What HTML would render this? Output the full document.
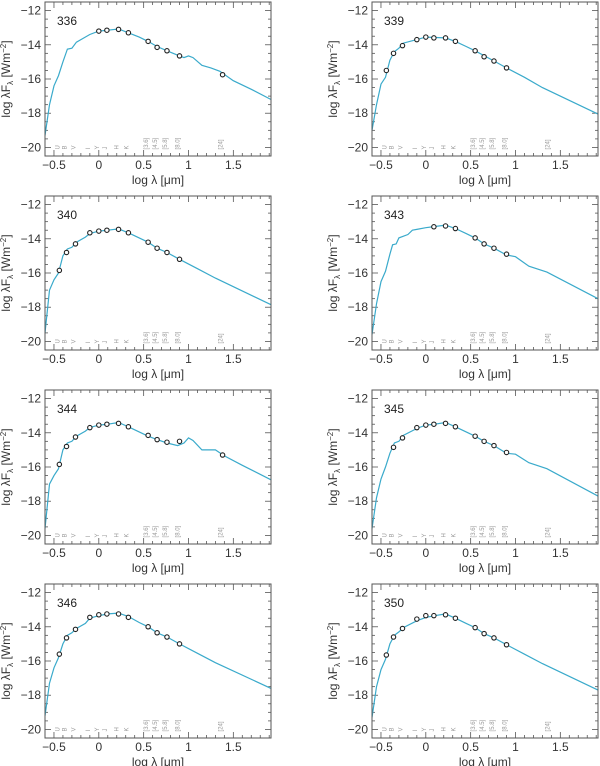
<!DOCTYPE html>
<html><head><meta charset="utf-8">
<style>
html,body{margin:0;padding:0;background:#fff;}
svg{display:block;font-family:"Liberation Sans",sans-serif;}
</style></head>
<body>
<svg id="fig" width="600" height="766" viewBox="0 0 600 766" xmlns="http://www.w3.org/2000/svg"></svg>
<script>
const panelIds = ["336","339","340","343","344","345","346","350"];
const pts336x = [0,0.09,0.22,0.33,0.55,0.65,0.76,0.9,1.38];
const pts336y = [-13.2,-13.15,-13.1,-13.3,-13.8,-14.15,-14.35,-14.65,-15.75];
const mod336x = [-0.6,-0.55,-0.5,-0.45,-0.4,-0.35,-0.3,-0.25,-0.2,-0.1,0,0.1,0.22,0.33,0.45,0.55,0.65,0.76,0.9,0.95,1.0,1.05,1.15,1.25,1.35,1.5,1.7,1.92];
const mod336y = [-19.3,-17.5,-16.4,-15.8,-15,-14.25,-14.2,-13.85,-13.7,-13.4,-13.2,-13.15,-13.08,-13.3,-13.55,-13.8,-14.1,-14.35,-14.65,-14.75,-14.65,-14.75,-15.2,-15.35,-15.55,-16.1,-16.6,-17.2];
const pts339x = [-0.44,-0.36,-0.26,-0.1,0,0.09,0.22,0.33,0.55,0.65,0.76,0.9];
const pts339y = [-15.5,-14.5,-14.05,-13.7,-13.55,-13.6,-13.6,-13.8,-14.35,-14.7,-14.95,-15.35];
const mod339x = [-0.6,-0.55,-0.5,-0.45,-0.4,-0.35,-0.3,-0.25,-0.1,0,0.22,0.33,0.45,0.55,0.76,0.9,1.1,1.3,1.92];
const mod339y = [-19,-17.5,-16.3,-15.9,-14.9,-14.4,-14.2,-13.9,-13.7,-13.55,-13.6,-13.8,-14.1,-14.35,-14.95,-15.35,-15.9,-16.5,-18.05];
const pts340x = [-0.44,-0.36,-0.26,-0.1,0,0.09,0.22,0.33,0.55,0.65,0.76,0.9];
const pts340y = [-15.85,-14.8,-14.3,-13.65,-13.55,-13.5,-13.45,-13.65,-14.2,-14.55,-14.8,-15.2];
const mod340x = [-0.6,-0.55,-0.5,-0.45,-0.4,-0.35,-0.3,-0.25,-0.15,-0.1,0,0.1,0.22,0.33,0.45,0.55,0.65,0.76,0.9,1.1,1.3,1.92];
const mod340y = [-19.5,-17,-16.4,-16,-15,-14.6,-14.5,-14.2,-13.9,-13.7,-13.55,-13.5,-13.42,-13.65,-13.95,-14.2,-14.55,-14.8,-15.2,-15.75,-16.3,-17.85];
const pts343x = [0.09,0.22,0.33,0.55,0.65,0.76,0.9];
const pts343y = [-13.3,-13.25,-13.4,-13.95,-14.3,-14.55,-14.9];
const mod343x = [-0.6,-0.55,-0.5,-0.45,-0.4,-0.37,-0.33,-0.3,-0.2,-0.15,-0.1,0,0.1,0.22,0.33,0.45,0.55,0.65,0.76,0.9,1.0,1.15,1.35,1.92];
const mod343y = [-19.6,-17.8,-16.5,-15.9,-14.9,-14.35,-14.3,-13.95,-13.75,-13.5,-13.45,-13.35,-13.28,-13.2,-13.4,-13.7,-13.95,-14.3,-14.55,-14.95,-15.05,-15.6,-15.95,-17.5];
const pts344x = [-0.44,-0.36,-0.26,-0.1,0,0.09,0.22,0.33,0.55,0.65,0.76,0.9,1.38];
const pts344y = [-15.85,-14.8,-14.25,-13.7,-13.55,-13.5,-13.45,-13.65,-14.15,-14.4,-14.55,-14.5,-15.3];
const mod344x = [-0.6,-0.55,-0.5,-0.45,-0.4,-0.35,-0.3,-0.25,-0.15,-0.1,0,0.1,0.22,0.33,0.45,0.55,0.65,0.76,0.88,0.95,1.0,1.05,1.15,1.3,1.4,1.6,1.92];
const mod344y = [-19.6,-17,-16.5,-16.1,-15,-14.6,-14.5,-14.2,-13.9,-13.7,-13.55,-13.5,-13.4,-13.65,-13.95,-14.2,-14.4,-14.6,-14.75,-14.6,-14.3,-14.45,-15,-15,-15.35,-15.9,-16.75];
const pts345x = [-0.36,-0.26,-0.1,0,0.09,0.22,0.33,0.55,0.65,0.76,0.9];
const pts345y = [-14.85,-14.3,-13.7,-13.55,-13.5,-13.45,-13.65,-14.2,-14.5,-14.75,-15.15];
const mod345x = [-0.6,-0.55,-0.5,-0.45,-0.4,-0.35,-0.3,-0.25,-0.1,0,0.1,0.22,0.33,0.45,0.55,0.65,0.76,0.9,1.0,1.15,1.35,1.92];
const mod345y = [-19.6,-17.8,-16.7,-16,-15.2,-14.6,-14.5,-14.15,-13.75,-13.55,-13.5,-13.4,-13.65,-13.95,-14.2,-14.5,-14.75,-15.2,-15.25,-15.75,-16.1,-17.7];
const pts346x = [-0.44,-0.36,-0.26,-0.1,0,0.09,0.22,0.33,0.55,0.65,0.76,0.9];
const pts346y = [-15.6,-14.65,-14.15,-13.45,-13.3,-13.25,-13.25,-13.45,-14,-14.35,-14.6,-15];
const mod346x = [-0.6,-0.55,-0.5,-0.45,-0.4,-0.35,-0.3,-0.25,-0.15,-0.1,0,0.1,0.22,0.33,0.45,0.55,0.65,0.76,0.9,1.1,1.3,1.92];
const mod346y = [-19.2,-17.3,-16.4,-15.8,-15,-14.5,-14.35,-14.1,-13.8,-13.5,-13.35,-13.25,-13.2,-13.4,-13.75,-14,-14.35,-14.6,-15,-15.55,-16.1,-17.6];
const pts350x = [-0.44,-0.36,-0.26,-0.1,0,0.09,0.22,0.33,0.55,0.65,0.76,0.9];
const pts350y = [-15.65,-14.6,-14.1,-13.55,-13.35,-13.35,-13.3,-13.5,-14.05,-14.4,-14.65,-15.05];
const mod350x = [-0.6,-0.55,-0.5,-0.45,-0.4,-0.35,-0.3,-0.25,-0.1,0,0.1,0.22,0.33,0.45,0.55,0.65,0.76,0.9,1.1,1.3,1.92];
const mod350y = [-19.3,-17.5,-16.5,-15.9,-15,-14.5,-14.3,-14.05,-13.65,-13.45,-13.35,-13.25,-13.5,-13.8,-14.05,-14.4,-14.65,-15.05,-15.6,-16.15,-17.7];
const filterNames = ["U","B","V","I","Y","J","H","K","[3.6]","[4.5]","[5.8]","[8.0]","[24]"];
const filterX = [-0.44,-0.36,-0.26,-0.1,0,0.09,0.22,0.33,0.55,0.65,0.76,0.9,1.38];
const xTicks = [-0.5,0,0.5,1,1.5];
const xTickLabels = ["\u22120.5","0","0.5","1","1.5"];
const yTicks = [-12,-14,-16,-18,-20];
const yTickLabels = ["\u221212","\u221214","\u221216","\u221218","\u221220"];

const DATA = {
 "336":[pts336x,pts336y,mod336x,mod336y],"339":[pts339x,pts339y,mod339x,mod339y],
 "340":[pts340x,pts340y,mod340x,mod340y],"343":[pts343x,pts343y,mod343x,mod343y],
 "344":[pts344x,pts344y,mod344x,mod344y],"345":[pts345x,pts345y,mod345x,mod345y],
 "346":[pts346x,pts346y,mod346x,mod346y],"350":[pts350x,pts350y,mod350x,mod350y]};

const NS="http://www.w3.org/2000/svg";
const svg=document.getElementById('fig');
function mk(tag,attrs,parent,txt){const e=document.createElementNS(NS,tag);for(const k in attrs)e.setAttribute(k,attrs[k]);if(txt!==undefined)e.textContent=txt;parent.appendChild(e);return e;}
const XMIN=-0.6,XMAX=1.92,YMIN=-20.5,YMAX=-11.5,W=226,H=154;
const colX=[45,372], rowY=[2,196,390,584];

panelIds.forEach((id,i)=>{
  const bx=colX[i%2], by=rowY[Math.floor(i/2)];
  const sx=v=>bx+(v-XMIN)/(XMAX-XMIN)*W;
  const sy=v=>by+(YMAX-v)/(YMAX-YMIN)*H;
  const g=mk('g',{},svg);
  
  
  // ticks
  const tk=mk('g',{stroke:'#555','stroke-width':0.8},g);
  
  
  for(let k=-6;k<=19;k++){const v=k/10;const x=sx(v);const major=Math.abs(v*2-Math.round(v*2))<1e-6;const L=major?6:3;
    mk('line',{x1:x,y1:by+H,x2:x,y2:by+H-L},tk);mk('line',{x1:x,y1:by,x2:x,y2:by+L},tk);}
  for(let k=-41;k<=-23;k++){const v=k/2;const y=sy(v);const major=(k%4===0);const L=major?6:3;
    mk('line',{x1:bx,y1:y,x2:bx+L,y2:y},tk);mk('line',{x1:bx+W,y1:y,x2:bx+W-L,y2:y},tk);}
  // tick labels
  xTicks.forEach((v,j)=>{const t=mk('text',{x:sx(v),y:by+H+13,'font-size':12,'text-anchor':'middle',fill:'#333'},g,xTickLabels[j]);
    });
  yTicks.forEach((v,j)=>{const t=mk('text',{x:bx-4,y:sy(v)+4,'font-size':12,'text-anchor':'end',fill:'#333'},g,yTickLabels[j]);
    });
  // axis titles
  const xt=mk('text',{x:bx+W/2,y:by+H+28,'font-size':12,'text-anchor':'middle',fill:'#333'},g,'log \u03bb [\u03bcm]');
  
  const yx=bx-35, yy=by+H/2;
  const yt=mk('text',{x:yx,y:yy,'font-size':12,'text-anchor':'middle',fill:'#333',transform:`rotate(-90 ${yx} ${yy})`},g);
  
  yt.innerHTML='log \u03bbF<tspan font-size="8" dy="3">\u03bb</tspan><tspan dy="-3"> [Wm</tspan><tspan font-size="8" dy="-4">\u22122</tspan><tspan dy="4">]</tspan>';
  // filter labels
  filterNames.forEach((n,j)=>{const x=sx(filterX[j]);const y=sy(-20)+2;
    const t=mk('text',{x:x,y:y,'font-size':6,fill:'#999',transform:`rotate(-90 ${x} ${y})`},g,n);
    });
  // model
  const d=DATA[id];
  const p=d[2].map((v,j)=>(j?'L':'M')+sx(v).toFixed(1)+','+sy(d[3][j]).toFixed(1)).join('');
  const cp=mk('clipPath',{id:'c'+id},g);mk('rect',{x:bx,y:by,width:W,height:H},cp);
  const ml=mk('path',{d:p,fill:'none',stroke:'#3aaacb','stroke-width':1.2,'clip-path':`url(#c${id})`},g);
  
  // points
  d[0].forEach((v,j)=>{const c=mk('circle',{cx:sx(v),cy:sy(d[1][j]),r:2.2,fill:'#fff',stroke:'#222','stroke-width':1.1},g);
    });
  // frame
  const fr=mk('rect',{x:bx,y:by,width:W,height:H,fill:'none',stroke:'#555','stroke-width':1},g);
  
  const lb=mk('text',{x:bx+12,y:by+23,'font-size':12,fill:'#222'},g,id);
  
});
</script>
</body></html>
